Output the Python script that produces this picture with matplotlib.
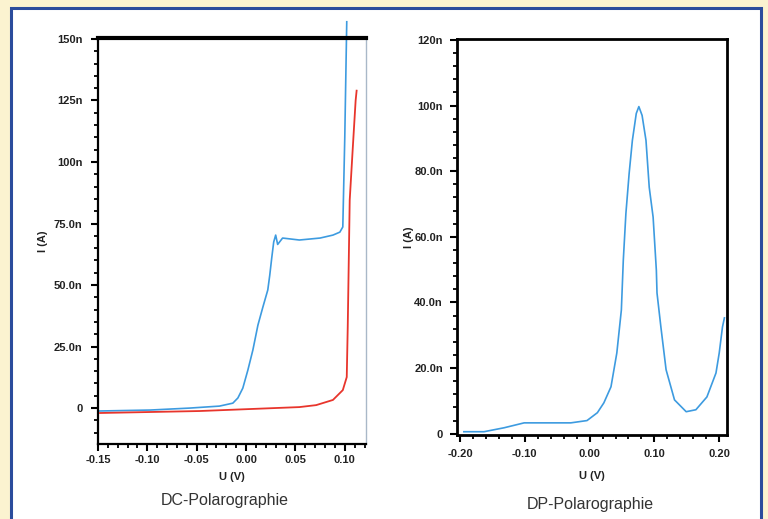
import numpy as np
import matplotlib
matplotlib.use("Agg")
import matplotlib.pyplot as plt
from matplotlib.patches import Rectangle
from matplotlib.ticker import MultipleLocator

plt.rcParams['font.family'] = ['Liberation Sans', 'DejaVu Sans']

# ----- DC-Polarographie
dc_blue_u = [-0.150, -0.097, -0.057, -0.027, -0.0134, -0.0083, -0.0033, 0.0018,
             0.0069, 0.012, 0.017, 0.022, 0.024, 0.026, 0.028, 0.030, 0.032,
             0.037, 0.054, 0.075, 0.088, 0.095, 0.098, 0.100, 0.102]
dc_blue_i = [-1.2, -0.8, 0.0, 0.8, 2.0, 4.1, 8.1, 15.4, 23.6, 33.7, 41.0, 48.0,
             54.0, 61.0, 67.5, 70.3, 66.5, 69.1, 68.3, 69.1, 70.3, 71.5, 73.6,
             110.0, 157.0]
dc_red_u = [-0.148, -0.047, 0.054, 0.071, 0.088, 0.098, 0.102, 0.103, 0.105,
            0.108, 0.111, 0.112]
dc_red_i = [-2.0, -1.2, 0.4, 1.2, 3.3, 7.3, 12.6, 33.0, 84.5, 105.0, 125.0, 129.0]

dc_xticks = [-0.15, -0.10, -0.05, 0.00, 0.05, 0.10]
dc_xlabels = ["-0.15", "-0.10", "-0.05", "0.00", "0.05", "0.10"]
dc_yticks = [0, 25, 50, 75, 100, 125, 150]
dc_ylabels = ["0", "25.0n", "50.0n", "75.0n", "100n", "125n", "150n"]

# ----- DP-Polarographie
dp_u = [-0.194, -0.163, -0.132, -0.101, -0.070, -0.029, -0.004, 0.012, 0.022,
        0.033, 0.042, 0.049, 0.052, 0.056, 0.061, 0.066, 0.072, 0.076, 0.081,
        0.087, 0.092, 0.098, 0.103, 0.104, 0.110, 0.118, 0.131, 0.149, 0.164,
        0.181, 0.195, 0.200, 0.205, 0.208]
dp_i = [0.6, 0.6, 1.8, 3.3, 3.3, 3.3, 4.0, 6.4, 9.4, 14.3, 24.6, 37.7, 52.9,
        67.1, 79.3, 89.4, 97.6, 99.7, 97.0, 89.4, 75.1, 66.0, 49.8, 42.9, 32.5,
        19.5, 10.3, 6.7, 7.3, 11.2, 18.5, 24.6, 32.5, 35.3]

dp_xticks = [-0.20, -0.10, 0.00, 0.10, 0.20]
dp_xlabels = ["-0.20", "-0.10", "0.00", "0.10", "0.20"]
dp_yticks = [0, 20, 40, 60, 80, 100, 120]
dp_ylabels = ["0", "20.0n", "40.0n", "60.0n", "80.0n", "100n", "120n"]

blue = "#3d9be0"
red = "#e8352c"

fig = plt.figure(figsize=(7.68, 5.19), dpi=100)
fig.patch.set_facecolor("#fbf3d0")
fig.patches.append(Rectangle((11 / 768, -0.01), 750 / 768, 1 - 8 / 519 + 0.01,
                             transform=fig.transFigure, facecolor="white",
                             edgecolor="#2b4c9c", linewidth=2.2, zorder=-5))

tick_font = dict(fontsize=8, fontweight="bold", color="#222222")
label_font = dict(fontsize=8, fontweight="bold", color="#222222")

# ----- left axes
ax1 = fig.add_axes([98 / 768, 1 - 444 / 519, 268 / 768, 406 / 519])
ax1.plot(dc_red_u, dc_red_i, color=red, linewidth=1.3, zorder=3)
ax1.plot(dc_blue_u, dc_blue_i, color=blue, linewidth=1.2, zorder=2, clip_on=False)
ax1.set_xlim(-0.15, 0.1215)
ax1.set_ylim(-14.6, 150.4)
ax1.set_xticks(dc_xticks)
ax1.set_xticklabels(dc_xlabels, **tick_font)
ax1.set_yticks(dc_yticks)
ax1.set_yticklabels(dc_ylabels, **tick_font)
ax1.xaxis.set_minor_locator(MultipleLocator(0.01))
ax1.yaxis.set_minor_locator(MultipleLocator(5))
ax1.spines["top"].set_linewidth(3)
ax1.spines["right"].set_color("#a9b8c8")
ax1.spines["right"].set_linewidth(1)
ax1.spines["left"].set_linewidth(1.6)
ax1.spines["bottom"].set_linewidth(1.6)
ax1.tick_params(which="major", direction="out", length=5, width=1.5, pad=6)
ax1.tick_params(axis="x", which="major", pad=3)
ax1.tick_params(which="minor", direction="out", length=3, width=1.3)
ax1.tick_params(top=False, right=False, which="both")
ax1.set_xlabel("U (V)", labelpad=5, **label_font)
ax1.set_ylabel("I (A)", labelpad=4, **label_font)
fig.text(225 / 768, 1 - 500 / 519, "DC-Polarographie", ha="center", va="center",
         fontsize=11.5, color="#333333")

# ----- right axes
ax2 = fig.add_axes([457 / 768, 1 - 435 / 519, 270 / 768, 396 / 519])
ax2.plot(dp_u, dp_i, color=blue, linewidth=1.2)
ax2.set_xlim(-0.2046, 0.212)
ax2.set_ylim(-0.4, 120.3)
ax2.set_xticks(dp_xticks)
ax2.set_xticklabels(dp_xlabels, **tick_font)
ax2.set_yticks(dp_yticks)
ax2.set_yticklabels(dp_ylabels, **tick_font)
ax2.xaxis.set_minor_locator(MultipleLocator(0.02))
ax2.yaxis.set_minor_locator(MultipleLocator(4))
for s in ax2.spines.values():
    s.set_linewidth(2)
ax2.tick_params(which="major", direction="out", length=5, width=1.5, pad=5)
ax2.tick_params(which="minor", direction="out", length=3, width=1.3)
ax2.set_xlabel("U (V)", labelpad=9, **label_font)
ax2.set_ylabel("I (A)", labelpad=0, **label_font)
fig.text(590 / 768, 1 - 505 / 519, "DP-Polarographie", ha="center", va="center",
         fontsize=11.5, color="#333333")

fig.savefig("out.png", dpi=100, facecolor=fig.get_facecolor())
